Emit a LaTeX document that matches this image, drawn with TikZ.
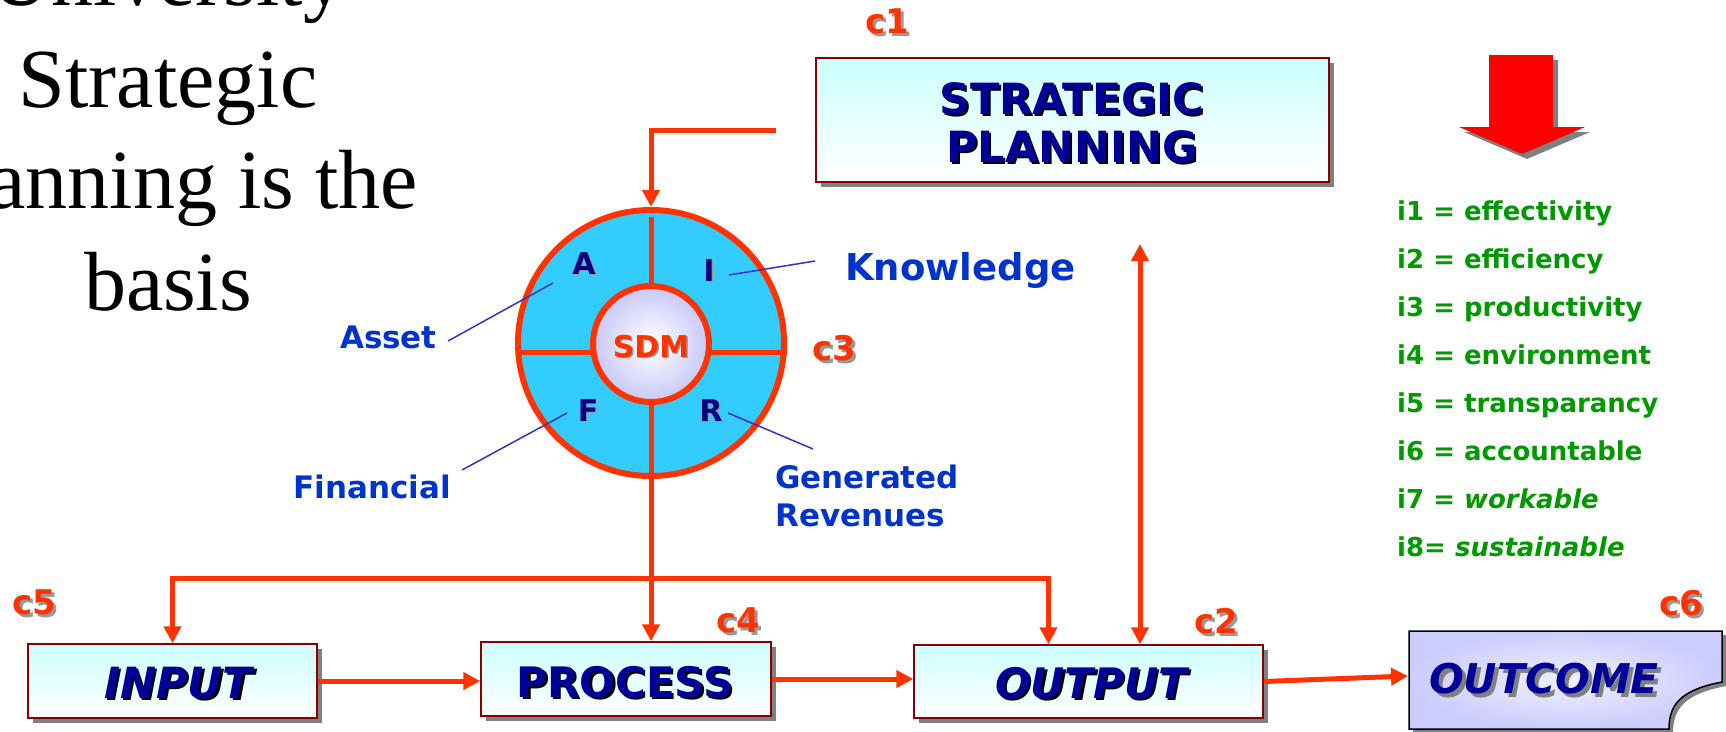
\documentclass[tikz,border=0pt]{standalone}
\usepackage{fontspec}
\setmainfont{DejaVu Sans}
\newfontfamily\tms{Liberation Serif}
\usetikzlibrary{arrows.meta,shadows}
\definecolor{ored}{HTML}{FF3300}
\definecolor{wcyan}{HTML}{33CCFF}
\definecolor{lav}{HTML}{C8C8F8}
\definecolor{navy}{HTML}{000099}
\definecolor{dnavy}{HTML}{000080}
\definecolor{lblue}{HTML}{0033CC}
\definecolor{llinec}{HTML}{3333CC}
\definecolor{igreen}{HTML}{009900}
\definecolor{boxred}{HTML}{880000}
\definecolor{boxtop}{HTML}{CCFFFF}
\definecolor{shgray}{HTML}{808080}
\definecolor{cgray}{HTML}{999999}
\definecolor{ocfill}{HTML}{CCCCFF}
\definecolor{ocin}{HTML}{F0F0FF}
\newcommand{\shd}[4]{\makebox[0pt][l]{\hspace*{#1}\raisebox{-#1}{\textcolor{#2}{#4}}}\textcolor{#3}{#4}}
\newcommand{\fs}[1]{\fontsize{#1}{#1}\selectfont}
\begin{document}
\begin{tikzpicture}[x=1pt,y=-1pt,
  pbox/.style={draw=boxred, line width=1.5pt, top color=boxtop, bottom color=white,
    drop shadow={shadow xshift=5pt, shadow yshift=-5pt, fill=shgray, opacity=1}, inner sep=0pt},
  boxtxt/.style={font=\bfseries\fs{42}, inner sep=0pt, anchor=base},
  clab/.style={font=\bfseries\fs{34}, inner sep=0pt},
  big/.style={font=\tms\fs{84}, inner sep=0pt, anchor=base},
  lbl/.style={font=\bfseries\fs{31}, text=lblue, inner sep=0pt},
  seg/.style={font=\bfseries\fs{30}, inner sep=0pt},
  ind/.style={font=\bfseries\fs{26}, text=igreen, inner sep=0pt, anchor=base west},
  conn/.style={draw=ored, line width=5pt, -{Triangle[width=17pt,length=17pt]}},
  lblline/.style={draw=llinec, line width=1.5pt}
]
\useasboundingbox (0,0) rectangle (1726,731);
\clip (0,0) rectangle (1726,731);

% left title
\node[big] (t0) at (168,5) {University};
\node[big] (t1) at (168,107) {Strategic};
\node[big] (t2) at (168,208) {Planning is the};
\node[big] (t3) at (168,310) {basis};

% strategic planning box
\node[pbox, minimum width=513pt, minimum height=124pt] (sp) at (1072.5,120) {};
\node[boxtxt, font=\bfseries\fs{43}] (sp1) at (1072,114) {\shd{2pt}{black}{navy}{STRATEGIC}};
\node[boxtxt, font=\bfseries\fs{43}] (sp2) at (1072,162) {\shd{2pt}{black}{navy}{PLANNING}};

% red down arrow
\fill[shgray] (1494,60) -- (1558,60) -- (1558,132) -- (1590,132) -- (1527,159) -- (1464,132) -- (1494,132) -- cycle;
\fill[red] (1489,55) -- (1553,55) -- (1553,127) -- (1585,127) -- (1522,154) -- (1459,127) -- (1489,127) -- cycle;

% indicators
\node[ind] (i1) at (1397,220) {i1 = effectivity};
\node[ind] (i2) at (1397,268) {i2 = efficiency};
\node[ind] (i3) at (1397,316) {i3 = productivity};
\node[ind] (i4) at (1397,364) {i4 = environment};
\node[ind] (i5) at (1397,412) {i5 = transparancy};
\node[ind] (i6) at (1397,460) {i6 = accountable};
\node[ind] (i7) at (1397,508) {i7 = \textit{workable}};
\node[ind] (i8) at (1397,556) {i8= \textit{sustainable}};

% wheel
\node[circle, draw=ored, line width=6pt, fill=wcyan, minimum size=266pt, inner sep=0pt] (wheel) at (651,343) {};
\draw[ored, line width=5pt] (516,352) -- (787,352);
\draw[ored, line width=5pt] (651,217) -- (wheel.south);
\node[circle, draw=ored, line width=6pt, inner color=white, outer color=lav, minimum size=116pt, inner sep=0pt] (hub) at (651,344) {};
\node[seg] (sdm) at (651,347) {\shd{1.5pt}{cgray}{ored}{SDM}};

\node[seg] (la) at (584,264) {\shd{1.5pt}{cgray}{dnavy}{A}};
\node[seg] (li) at (709,271) {\shd{1.5pt}{cgray}{dnavy}{I}};
\node[seg] (lf) at (588,411) {\shd{1.5pt}{cgray}{dnavy}{F}};
\node[seg] (lr) at (711,411) {\shd{1.5pt}{cgray}{dnavy}{R}};

% labels
\node[lbl, anchor=base east] (asset) at (437,348) {Asset};
\node[lbl, anchor=base west] (fin) at (293,498) {Financial};
\node[lbl, anchor=base west, font=\bfseries\fs{37}] (know) at (845,280) {Knowledge};
\node[lbl, anchor=base west] (gen) at (775,488) {Generated};
\node[lbl, anchor=base west] (rev) at (775,526) {Revenues};

\coordinate (a1) at (448,341); \coordinate (a2) at (553,283);
\coordinate (f1) at (462,470); \coordinate (f2) at (567,413);
\coordinate (k1) at (729,275); \coordinate (k2) at (815,261);
\coordinate (r1) at (728,413); \coordinate (r2) at (813,449);
\draw[lblline] (a1) -- (a2);
\draw[lblline] (f1) -- (f2);
\draw[lblline] (k1) -- (k2);
\draw[lblline] (r1) -- (r2);

% c labels
\node[clab] (c1) at (887,23) {\shd{3pt}{cgray}{ored}{c1}};
\node[clab] (c2) at (1216,623) {\shd{3pt}{cgray}{ored}{c2}};
\node[clab] (c3) at (834,350) {\shd{3pt}{cgray}{ored}{c3}};
\node[clab] (c4) at (738,622) {\shd{3pt}{cgray}{ored}{c4}};
\node[clab] (c5) at (34,604) {\shd{3pt}{cgray}{ored}{c5}};
\node[clab] (c6) at (1681,605) {\shd{3pt}{cgray}{ored}{c6}};

% bottom boxes
\node[pbox, minimum width=289pt, minimum height=74pt] (input) at (172.5,681) {};
\node[pbox, minimum width=290pt, minimum height=74pt] (process) at (626,679) {};
\node[pbox, minimum width=349pt, minimum height=73pt] (output) at (1088.5,681.5) {};
\node[boxtxt, font=\bfseries\itshape\fs{43}] (tin) at (178,698) {\shd{2.5pt}{black}{navy}{INPUT}};
\node[boxtxt] (tpr) at (625,697) {\shd{2.5pt}{black}{navy}{PROCESS}};
\node[boxtxt, font=\bfseries\itshape\fs{42}] (tout) at (1091,698) {\shd{2.5pt}{black}{navy}{OUTPUT}};

% outcome
\begin{scope}[shift={(4,4)}]
\fill[shgray] (1409,631) -- (1722,631) -- (1722,682) .. controls (1680,690) and (1669,705) .. (1669,729) -- (1409,729) -- cycle;
\end{scope}
\path[draw=black, line width=1.5pt, inner color=ocin, outer color=ocfill] (1409,631) -- (1722,631) -- (1722,682) .. controls (1680,690) and (1669,705) .. (1669,729) -- (1409,729) -- cycle;
\node[boxtxt, font=\bfseries\itshape\fs{41}] (outcome) at (1544,693) {\shd{4pt}{shgray}{navy}{OUTCOME}};

% connectors
\coordinate (spl) at (776,130);
\draw[conn] (spl) -| (wheel.north);
\draw[conn] (wheel.south) -- (wheel.south |- process.north);
\coordinate (jn) at (651,578);
\draw[conn] (jn) -| (input.north);
\draw[conn] (jn) -| ([xshift=-40pt]output.north);
\coordinate (dup) at (1140,244);
\draw[draw=ored, line width=5pt, {Triangle[width=17pt,length=17pt]}-{Triangle[width=17pt,length=17pt]}] (dup) -- (dup |- output.north);
\draw[conn] (input.east) -- (input.east -| process.west);
\draw[conn] (process.east) -- (process.east -| output.west);
\coordinate (ocw) at (1408,676);
\draw[conn] (output.east) -- (ocw);
\end{tikzpicture}
\end{document}
